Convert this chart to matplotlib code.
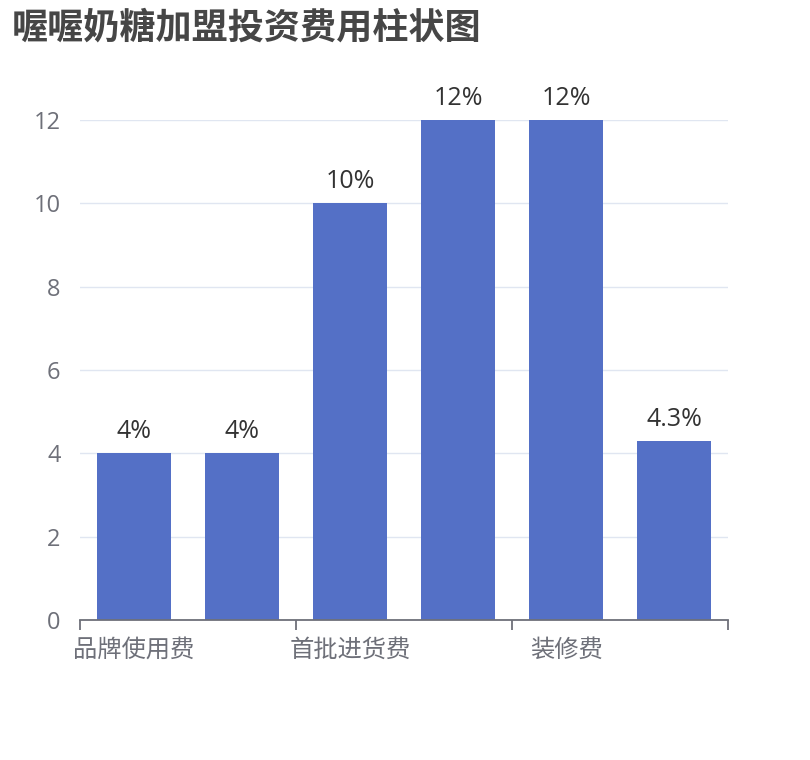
import matplotlib.pyplot as plt
import numpy as np

plt.rcParams['font.family'] = ['Noto Sans CJK SC', 'DejaVu Sans']
num_font = ['Open Sans', 'Noto Sans CJK SC', 'DejaVu Sans']

# data
categories = ["品牌使用费", "加盟费", "首批进货费", "设备费", "装修费", "其他费用"]
values = [4, 4, 10, 12, 12, 4.3]
bar_labels = ["4%", "4%", "10%", "12%", "12%", "4.3%"]
y_ticks = [0, 2, 4, 6, 8, 10, 12]

fig = plt.figure(figsize=(8.1, 7.6), dpi=100)
ax = fig.add_axes([80 / 810, 140 / 760, 648 / 810, 500 / 760])

x = np.arange(len(categories))
bars = ax.bar(x, values, width=0.69, color='#5470c6', zorder=3)
for b, lab in zip(bars, bar_labels):
    ax.annotate(lab, (b.get_x() + b.get_width() / 2, b.get_height()),
                xytext=(0, 9), textcoords='offset pixels', ha='center', va='bottom',
                fontsize=18, color='#333333', family=num_font)

ax.set_xlim(-0.5, len(categories) - 0.5)
ax.set_ylim(0, 12)
ax.set_yticks(y_ticks)
ax.set_yticklabels([str(t) for t in y_ticks], fontsize=17, color='#6e7079', family=num_font)
ax.tick_params(axis='y', length=0, pad=14)
ax.yaxis.grid(True, color='#e0e6f1', linewidth=1, zorder=0)

# category labels every other one, ticks on group boundaries
ax.set_xticks(x[::2])
ax.set_xticklabels(categories[::2], fontsize=17.5, color='#6e7079')
ax.tick_params(axis='x', length=0, pad=12)
ax.set_xticks(np.arange(-0.5, len(categories), 2), minor=True)
ax.tick_params(axis='x', which='minor', length=7, width=1.3, color='#6e7079', direction='out')

for s in ['top', 'right', 'left']:
    ax.spines[s].set_visible(False)
ax.spines['bottom'].set_color('#6e7079')
ax.spines['bottom'].set_linewidth(1.3)
ax.spines['bottom'].set_zorder(4)

fig.text(12 / 810, 1 - 28 / 760, "喔喔奶糖加盟投资费用柱状图", fontsize=26, fontweight='bold',
         color='#464646', ha='left', va='center')

fig.savefig('out.png', dpi=100)
